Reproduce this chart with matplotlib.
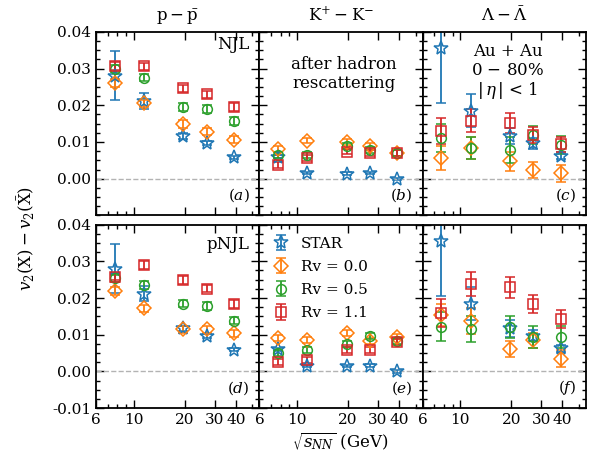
import numpy as np
import matplotlib
matplotlib.use('Agg')
import matplotlib.pyplot as plt
from matplotlib.ticker import FixedLocator, NullFormatter, MultipleLocator

plt.rcParams['font.family'] = 'DejaVu Serif'
plt.rcParams['mathtext.fontset'] = 'dejavuserif'
plt.rcParams['font.size'] = 11

# energias (GeV)
energias = [7.7, 11.5, 19.6, 27.0, 39.0]

# STAR (misma en las dos filas)
star_pp = [0.0280, 0.0212, 0.0117, 0.0097, 0.0059]
star_pp_err = [0.0067, 0.0021, 0.0008, 0.0006, 0.0004]
star_k = [0.0060, 0.0015, 0.0014, 0.0016, 0.0000]
star_k_err = [0.0004, 0.0003, 0.0003, 0.0003, 0.0003]
star_l = [0.0355, 0.0185, 0.0117, 0.0097, 0.0063]
star_l_err = [0.0150, 0.0045, 0.0022, 0.0015, 0.0010]

# NJL
njl_pp_00 = [0.0261, 0.0205, 0.0149, 0.0128, 0.0106]
njl_pp_05 = [0.0300, 0.0275, 0.0195, 0.0190, 0.0157]
njl_pp_11 = [0.0307, 0.0306, 0.0246, 0.0230, 0.0195]
njl_k_00 = [0.0080, 0.0104, 0.0101, 0.0088, 0.0071]
njl_k_05 = [0.0065, 0.0065, 0.0088, 0.0079, 0.0071]
njl_k_11 = [0.0038, 0.0056, 0.0074, 0.0071, 0.0071]
njl_l_00 = [0.0056, 0.0083, 0.0047, 0.0024, 0.0015]
njl_l_00_err = [0.0032, 0.0030, 0.0025, 0.0022, 0.0023]
njl_l_05 = [0.0110, 0.0083, 0.0079, 0.0119, 0.0092]
njl_l_05_err = [0.0038, 0.0030, 0.0035, 0.0025, 0.0025]
njl_l_11 = [0.0130, 0.0158, 0.0151, 0.0119, 0.0094]
njl_l_11_err = [0.0035, 0.0032, 0.0027, 0.0022, 0.0020]

# pNJL
pnjl_pp_00 = [0.0219, 0.0172, 0.0115, 0.0115, 0.0104]
pnjl_pp_05 = [0.0254, 0.0235, 0.0185, 0.0178, 0.0138]
pnjl_pp_11 = [0.0258, 0.0290, 0.0249, 0.0225, 0.0184]
pnjl_k_00 = [0.0092, 0.0085, 0.0104, 0.0083, 0.0095]
pnjl_k_05 = [0.0051, 0.0058, 0.0075, 0.0096, 0.0083]
pnjl_k_11 = [0.0026, 0.0031, 0.0058, 0.0058, 0.0081]
pnjl_l_00 = [0.0155, 0.0137, 0.0060, 0.0085, 0.0035]
pnjl_l_00_err = [0.0030, 0.0035, 0.0022, 0.0020, 0.0023]
pnjl_l_05 = [0.0122, 0.0115, 0.0120, 0.0093, 0.0095]
pnjl_l_05_err = [0.0040, 0.0035, 0.0030, 0.0030, 0.0030]
pnjl_l_11 = [0.0158, 0.0239, 0.0229, 0.0184, 0.0142]
pnjl_l_11_err = [0.0038, 0.0033, 0.0028, 0.0025, 0.0025]

# errores chicos del modelo para p y K
err_pp = [0.0010, 0.0010, 0.0010, 0.0010, 0.0010]
err_k = [0.0008, 0.0008, 0.0008, 0.0008, 0.0008]

titulos = [r'$\mathrm{p-\bar{p}}$', r'$\mathrm{K^{+}-K^{-}}$', r'$\Lambda-\bar{\Lambda}$']
etiquetas = ['STAR', 'Rv = 0.0', 'Rv = 0.5', 'Rv = 1.1']
letras = ['a', 'b', 'c', 'd', 'e', 'f']

colores = ['#1f77b4', '#ff7f0e', '#2ca02c', '#d62728']
marcadores = ['*', 'D', 'o', 's']
tamanos = [10, 7, 7, 7]

paneles = [
    [(star_pp, star_pp_err), (njl_pp_00, err_pp), (njl_pp_05, err_pp), (njl_pp_11, err_pp)],
    [(star_k, star_k_err), (njl_k_00, err_k), (njl_k_05, err_k), (njl_k_11, err_k)],
    [(star_l, star_l_err), (njl_l_00, njl_l_00_err), (njl_l_05, njl_l_05_err), (njl_l_11, njl_l_11_err)],
    [(star_pp, star_pp_err), (pnjl_pp_00, err_pp), (pnjl_pp_05, err_pp), (pnjl_pp_11, err_pp)],
    [(star_k, star_k_err), (pnjl_k_00, err_k), (pnjl_k_05, err_k), (pnjl_k_11, err_k)],
    [(star_l, star_l_err), (pnjl_l_00, pnjl_l_00_err), (pnjl_l_05, pnjl_l_05_err), (pnjl_l_11, pnjl_l_11_err)],
]

fig, axs = plt.subplots(2, 3, figsize=(5.9, 4.55), dpi=100)
fig.subplots_adjust(left=0.163, right=0.993, top=0.93, bottom=0.103, wspace=0, hspace=0.05)

for i, ax in enumerate(axs.flat):
    fila, col = divmod(i, 3)
    handles = []
    for j, (vals, errs) in enumerate(paneles[i]):
        h = ax.errorbar(energias, vals, yerr=errs, fmt=marcadores[j], color=colores[j],
                        mfc='none', mec=colores[j], ms=tamanos[j], mew=1.1,
                        elinewidth=1.3, capsize=3.5, capthick=1.3, label=etiquetas[j])
        handles.append(h)
    ax.axhline(0, color='0.7', ls='--', lw=1)

    ax.set_xscale('log')
    ax.set_xlim(6, 55)
    ax.set_ylim(-0.01, 0.04)
    ax.xaxis.set_major_locator(FixedLocator([6, 10, 20, 30, 40]))
    ax.xaxis.set_minor_locator(FixedLocator([7, 8, 9, 50]))
    ax.xaxis.set_minor_formatter(NullFormatter())
    ax.yaxis.set_major_locator(MultipleLocator(0.01))
    ax.yaxis.set_minor_locator(MultipleLocator(0.0025))
    ax.tick_params(which='both', direction='in', top=True, right=True, labelsize=11)
    ax.tick_params(which='major', length=6, width=1)
    ax.tick_params(which='minor', length=3, width=1)
    for s in ax.spines.values():
        s.set_linewidth(1.3)

    if fila == 0:
        ax.set_xticklabels([])
        ax.set_title(titulos[col], fontsize=12, pad=8)
        ax.set_yticks([0, 0.01, 0.02, 0.03, 0.04])
    else:
        ax.set_xticklabels(['6', '10', '20', '30', '40'])
    if col == 0:
        ax.yaxis.set_major_formatter(plt.FuncFormatter(lambda v, p: '%.2f' % v))
    else:
        ax.set_yticklabels([])

    ax.text(0.94, 0.06, r'$(%s)$' % letras[i], transform=ax.transAxes,
            ha='right', va='bottom', fontsize=11)

    if i == 4:
        ax.legend(handles=handles, loc='upper left', frameon=False, fontsize=11,
                  handletextpad=0.7, labelspacing=0.6, borderaxespad=0.4,
                  handlelength=1.2)

axs[0, 0].text(0.94, 0.93, 'NJL', transform=axs[0, 0].transAxes, ha='right', va='center', fontsize=12)
axs[1, 0].text(0.94, 0.89, 'pNJL', transform=axs[1, 0].transAxes, ha='right', va='center', fontsize=12)
axs[0, 1].text(0.52, 0.77, 'after hadron\nrescattering', transform=axs[0, 1].transAxes,
               ha='center', va='center', fontsize=12, linespacing=1.2)
axs[0, 2].text(0.52, 0.78, 'Au + Au\n0 $-$ 80%\n$|\\,\\eta\\,|$ < 1', transform=axs[0, 2].transAxes,
               ha='center', va='center', fontsize=12, linespacing=1.1)

fig.text(0.045, 0.475, r'$v_2(\mathrm{X})-v_2(\bar{\mathrm{X}})$', rotation=90,
         ha='center', va='center', fontsize=12)
fig.text(0.577, 0.03, r'$\sqrt{s_{NN}}$ (GeV)', ha='center', va='center', fontsize=12)

fig.savefig('out.png', dpi=100)
